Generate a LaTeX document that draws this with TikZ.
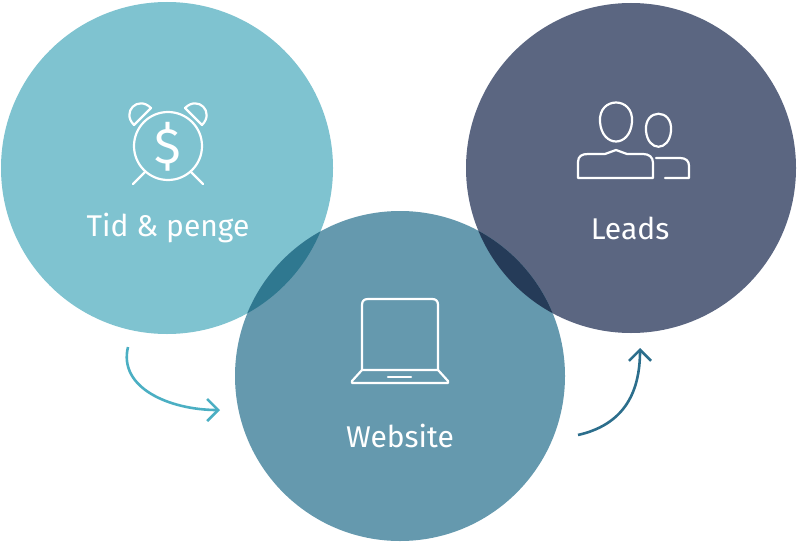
\documentclass[tikz,border=0pt]{standalone}
\usepackage{fontspec}
\setmainfont{Fira Sans}
\usetikzlibrary{arrows.meta}
\definecolor{cL}{HTML}{7FC3D0}
\definecolor{cM}{HTML}{6599AE}
\definecolor{cR}{HTML}{5B6681}
\definecolor{oLM}{HTML}{2F7890}
\definecolor{oMR}{HTML}{253B58}
\definecolor{aL}{HTML}{4BAFC3}
\definecolor{aR}{HTML}{2C6E8C}
\tikzset{icon/.style={draw=white,line width=2.2pt,line cap=round,line join=round},
lab/.style={text=white,font=\fontsize{30}{34}\selectfont},
arr/.style={line width=2.6pt,-{Straight Barb[length=11pt,width=22pt,line width=2.6pt]}}}
\begin{document}
\begin{tikzpicture}[x=1pt,y=-1pt]
\useasboundingbox (0,0) rectangle (799,543);
\fill[cL] (167,168) circle (166);
\fill[cR] (631,168) circle (165);
\fill[cM] (400,376) circle (165);
\begin{scope}\clip (167,168) circle (166); \fill[oLM] (400,376) circle (165);\end{scope}
\begin{scope}\clip (631,168) circle (165); \fill[oMR] (400,376) circle (165);\end{scope}
% clock
\draw[icon] (168,146) circle (34);
\node[text=white,font=\fontsize{50}{50}\selectfont] (dollar) at (168,147) {\$};
\draw[icon] (134,125) .. controls (121,112) and (138,95) .. (151,108) -- cycle;
\draw[icon] (202,125) .. controls (215,112) and (198,95) .. (185,108) -- cycle;
\draw[icon] (145,172) -- (133,184);
\draw[icon] (191,172) -- (203,184);
\node[lab] (tid) at (168,228) {Tid \& penge};
% people
\draw[icon] (600,122) .. controls (598,96) and (634,96) .. (632,122) .. controls (630,148) and (602,148) .. (600,122) -- cycle;
\draw[icon] (646,131) .. controls (644,108) and (673,108) .. (671,131) .. controls (669,152) and (648,152) .. (646,131) -- cycle;
\draw[icon] (578,178) -- (578,162) .. controls (578,156) and (582,154) .. (588,154) -- (605,154) -- (616,150) -- (627,154) -- (643,154) .. controls (649,154) and (653,157) .. (653,163) -- (653,178) -- cycle;
\draw[icon] (656,158) -- (680,158) .. controls (686,158) and (689,161) .. (689,166) -- (689,178) -- (665,178);
\node[lab] (leads) at (630,228) {Leads};
% laptop
\draw[icon] (362,370) -- (362,305) .. controls (362,301) and (364,299) .. (368,299) -- (432,299) .. controls (436,299) and (438,301) .. (438,305) -- (438,370);
\draw[icon] (362,370) -- (438,370) -- (448,381) -- (448,383) -- (352,383) -- (352,381) -- cycle;
\draw[icon] (388,377) -- (411,377);
\node[lab] (web) at (400,436) {Website};
% arrows
\coordinate (a1) at (128,347); \coordinate (a2) at (220,410);
\draw[arr,aL] (a1) .. controls (118,388) and (170,410) .. (a2);
\coordinate (b1) at (578,435); \coordinate (b2) at (640,348);
\draw[arr,aR] (b1) .. controls (622,425) and (640,395) .. (b2);
\end{tikzpicture}
\end{document}
